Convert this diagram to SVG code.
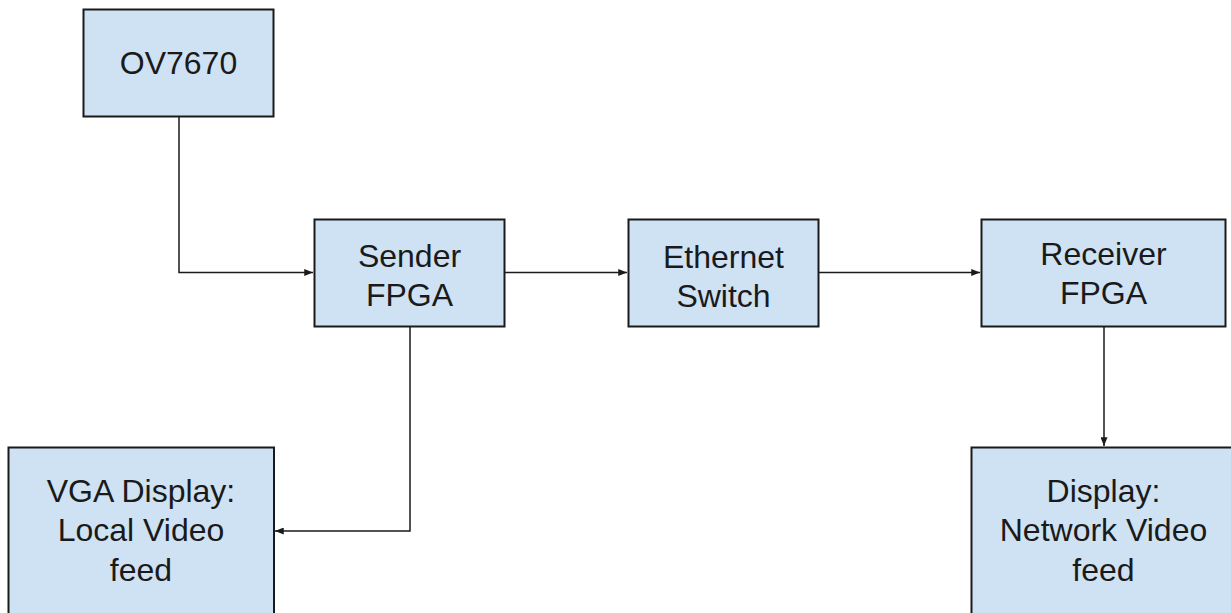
<svg xmlns="http://www.w3.org/2000/svg" width="1231" height="613" viewBox="0 0 1231 613">
<style>
.box{fill:#cfe2f3;stroke:#1a1a1a;stroke-width:2}
.t{font-family:"Liberation Sans",Arial,sans-serif;font-size:32px;fill:#1a1a1a;text-anchor:middle}
.c{fill:none;stroke:#1a1a1a;stroke-width:1.5}
</style>
<defs>
<marker id="ah" viewBox="0 0 10 8" refX="10" refY="4" markerWidth="9" markerHeight="7" markerUnits="userSpaceOnUse" orient="auto">
<path d="M0,0 L10,4 L0,8 Z" fill="#1a1a1a"/>
</marker>
</defs>
<rect width="1231" height="613" fill="#fff"/>
<g id="connectors">
<path class="c" d="M179,117 V272.5 H313" marker-end="url(#ah)"/>
<path class="c" d="M505,272.5 H627" marker-end="url(#ah)"/>
<path class="c" d="M819,272.5 H980" marker-end="url(#ah)"/>
<path class="c" d="M410,327 V531 H275" marker-end="url(#ah)"/>
<path class="c" d="M1104,327 V446" marker-end="url(#ah)"/>
</g>
<g id="ov7670">
<rect class="box" x="83.5" y="9.5" width="190" height="107"/>
<text class="t" x="178.5" y="73.5">OV7670</text>
</g>
<g id="sender">
<rect class="box" x="314.5" y="219.5" width="190" height="107"/>
<text class="t" x="409.5" y="267">Sender</text>
<text class="t" x="409.5" y="306">FPGA</text>
</g>
<g id="ethernet">
<rect class="box" x="628.5" y="219.5" width="190" height="107"/>
<text class="t" x="723.5" y="268">Ethernet</text>
<text class="t" x="723.5" y="306.5">Switch</text>
</g>
<g id="receiver">
<rect class="box" x="981.5" y="219.5" width="244" height="107"/>
<text class="t" x="1103.5" y="265">Receiver</text>
<text class="t" x="1103.5" y="303.5">FPGA</text>
</g>
<g id="vga">
<rect class="box" x="8.5" y="447.5" width="265.5" height="180"/>
<text class="t" x="141" y="501.5">VGA Display:</text>
<text class="t" x="141" y="541">Local Video</text>
<text class="t" x="141" y="580.5">feed</text>
</g>
<g id="display">
<rect class="box" x="971.5" y="447.5" width="265" height="180"/>
<text class="t" x="1103.5" y="501.5">Display:</text>
<text class="t" x="1103.5" y="541">Network Video</text>
<text class="t" x="1103.5" y="580.5">feed</text>
</g>
</svg>
